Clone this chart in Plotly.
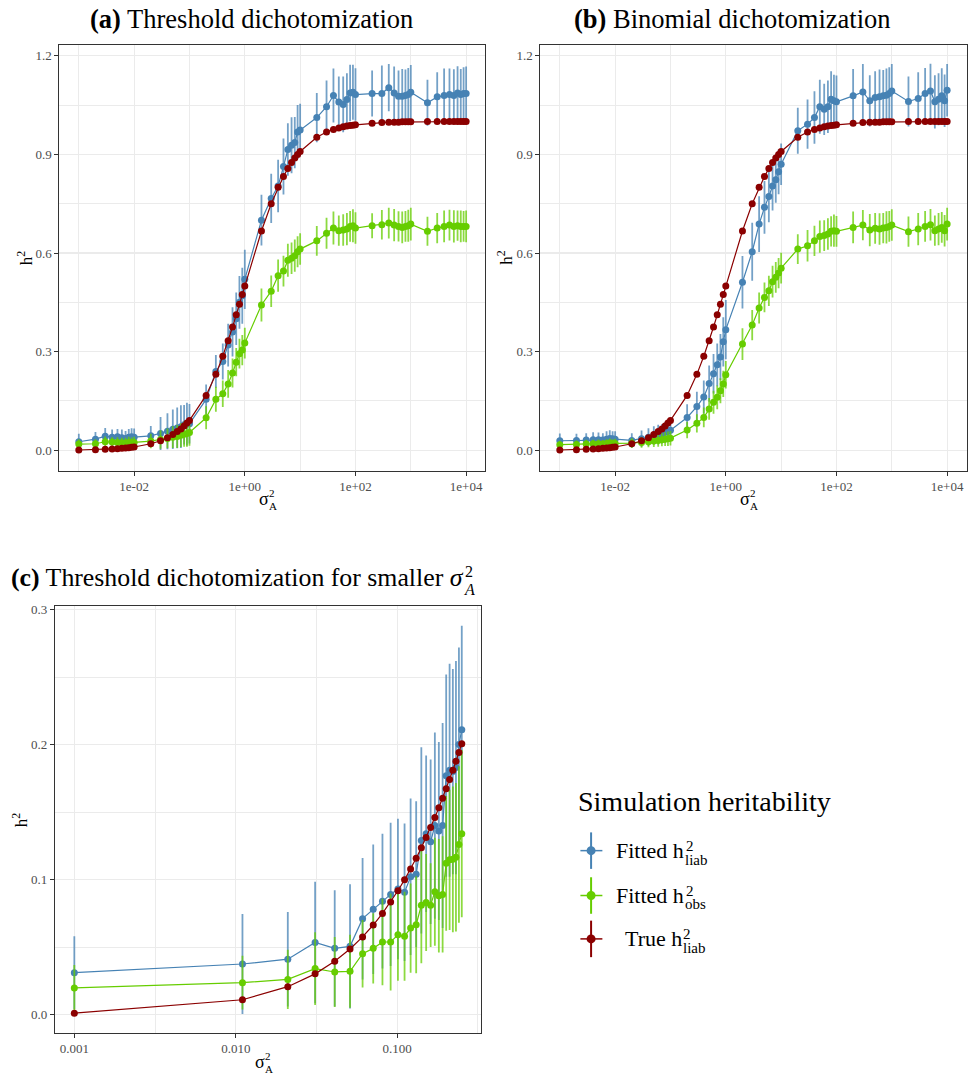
import plotly.graph_objects as go

# ---------------- data ----------------
sigma = [0.001, 0.002, 0.003, 0.004, 0.005, 0.006, 0.007, 0.008, 0.009,
         0.01, 0.02, 0.03, 0.04, 0.05, 0.06, 0.07, 0.08, 0.09,
         0.1, 0.2, 0.3, 0.4, 0.5, 0.6, 0.7, 0.8, 0.9,
         1, 2, 3, 4, 5, 6, 7, 8, 9,
         10, 20, 30, 40, 50, 60, 70, 80, 90,
         100, 200, 300, 400, 500, 600, 700, 800, 900,
         1000, 2000, 3000, 4000, 5000, 6000, 7000, 8000, 9000,
         10000]

true_h = [0.001, 0.002, 0.003, 0.004, 0.005, 0.006, 0.007, 0.008, 0.009,
          0.010, 0.020, 0.029, 0.038, 0.048, 0.057, 0.065, 0.074, 0.083,
          0.091, 0.167, 0.231, 0.286, 0.333, 0.375, 0.412, 0.444, 0.474,
          0.500, 0.667, 0.750, 0.800, 0.833, 0.857, 0.875, 0.889, 0.900,
          0.909, 0.952, 0.968, 0.976, 0.980, 0.984, 0.986, 0.988, 0.989,
          0.990, 0.995, 0.997, 0.998, 0.998, 0.998, 0.999, 0.999, 0.999,
          0.999, 1.000, 1.000, 1.000, 1.000, 1.000, 1.000, 1.000, 1.000,
          1.000]

# (a) threshold dichotomization
a_liab = [0.026, 0.034, 0.043, 0.040, 0.041, 0.038, 0.036, 0.040, 0.041,
          0.040, 0.044, 0.051, 0.058, 0.064, 0.068, 0.072, 0.078, 0.080,
          0.081, 0.155, 0.240, 0.270, 0.320, 0.360, 0.400, 0.450, 0.470,
          0.520, 0.700, 0.766, 0.804, 0.863, 0.915, 0.928, 0.936, 0.968,
          0.974, 1.012, 1.045, 1.079, 1.059, 1.052, 1.067, 1.087, 1.089,
          1.082, 1.085, 1.085, 1.103, 1.087, 1.077, 1.077, 1.079, 1.082,
          1.089, 1.057, 1.075, 1.079, 1.082, 1.079, 1.087, 1.082, 1.085,
          1.085]
a_liab_se = [0.024, 0.022, 0.025, 0.023, 0.024, 0.025, 0.023, 0.025, 0.026,
             0.026, 0.030, 0.050, 0.055, 0.060, 0.062, 0.065, 0.060, 0.065,
             0.060, 0.045, 0.050, 0.055, 0.065, 0.075, 0.080, 0.080, 0.085,
             0.090, 0.077, 0.075, 0.080, 0.085, 0.080, 0.085, 0.078, 0.082,
             0.080, 0.075, 0.080, 0.082, 0.078, 0.085, 0.080, 0.086, 0.084,
             0.080, 0.070, 0.085, 0.072, 0.080, 0.078, 0.083, 0.079, 0.081,
             0.083, 0.070, 0.075, 0.082, 0.079, 0.080, 0.081, 0.078, 0.080,
             0.082]
a_obs = [0.019, 0.020, 0.026, 0.025, 0.024, 0.023, 0.022, 0.024, 0.023,
         0.024, 0.028, 0.033, 0.036, 0.040, 0.042, 0.046, 0.049, 0.051,
         0.054, 0.099, 0.155, 0.172, 0.202, 0.235, 0.268, 0.294, 0.305,
         0.326, 0.442, 0.484, 0.531, 0.545, 0.578, 0.584, 0.592, 0.604,
         0.612, 0.637, 0.660, 0.676, 0.668, 0.670, 0.673, 0.681, 0.683,
         0.676, 0.683, 0.686, 0.691, 0.685, 0.681, 0.678, 0.681, 0.683,
         0.688, 0.666, 0.676, 0.681, 0.685, 0.681, 0.683, 0.681, 0.681,
         0.681]
a_obs_se = [0.015, 0.014, 0.016, 0.015, 0.016, 0.015, 0.016, 0.017, 0.016,
            0.017, 0.022, 0.028, 0.030, 0.033, 0.035, 0.036, 0.038, 0.040,
            0.040, 0.035, 0.038, 0.040, 0.042, 0.044, 0.043, 0.045, 0.046,
            0.047, 0.050, 0.048, 0.049, 0.047, 0.050, 0.048, 0.049, 0.047,
            0.048, 0.045, 0.047, 0.050, 0.046, 0.048, 0.049, 0.047, 0.050,
            0.048, 0.038, 0.045, 0.047, 0.049, 0.046, 0.048, 0.047, 0.049,
            0.050, 0.044, 0.046, 0.048, 0.047, 0.049, 0.046, 0.048, 0.047,
            0.048]

# (b) binomial dichotomization
b_liab = [0.029, 0.030, 0.031, 0.032, 0.032, 0.031, 0.034, 0.036, 0.035,
          0.034, 0.030, 0.035, 0.040, 0.045, 0.048, 0.050, 0.054, 0.057,
          0.061, 0.100, 0.133, 0.162, 0.203, 0.233, 0.260, 0.284, 0.330,
          0.367, 0.511, 0.604, 0.688, 0.739, 0.772, 0.804, 0.823, 0.847,
          0.870, 0.972, 0.992, 1.012, 1.045, 1.037, 1.045, 1.068, 1.063,
          1.060, 1.078, 1.090, 1.063, 1.073, 1.075, 1.078, 1.080, 1.085,
          1.093, 1.061, 1.070, 1.085, 1.093, 1.060, 1.068, 1.078, 1.063,
          1.095]
b_liab_se = [0.022, 0.020, 0.021, 0.023, 0.022, 0.021, 0.024, 0.025, 0.023,
             0.024, 0.022, 0.025, 0.027, 0.028, 0.030, 0.029, 0.031, 0.030,
             0.030, 0.040, 0.045, 0.050, 0.055, 0.060, 0.065, 0.070, 0.075,
             0.090, 0.080, 0.088, 0.085, 0.080, 0.078, 0.075, 0.070, 0.068,
             0.063, 0.070, 0.075, 0.080, 0.082, 0.078, 0.080, 0.085, 0.079,
             0.080, 0.082, 0.085, 0.078, 0.080, 0.083, 0.079, 0.081, 0.080,
             0.082, 0.076, 0.080, 0.078, 0.083, 0.081, 0.079, 0.084, 0.080,
             0.080]
b_obs = [0.017, 0.018, 0.019, 0.020, 0.020, 0.019, 0.021, 0.022, 0.021,
         0.021, 0.022, 0.024, 0.026, 0.028, 0.030, 0.032, 0.034, 0.035,
         0.037, 0.062, 0.082, 0.100, 0.126, 0.146, 0.161, 0.181, 0.202,
         0.230, 0.323, 0.381, 0.433, 0.465, 0.485, 0.513, 0.526, 0.539,
         0.554, 0.612, 0.622, 0.637, 0.650, 0.653, 0.658, 0.666, 0.668,
         0.666, 0.678, 0.685, 0.670, 0.675, 0.673, 0.676, 0.678, 0.681,
         0.685, 0.665, 0.673, 0.681, 0.686, 0.668, 0.673, 0.678, 0.668,
         0.688]
b_obs_se = [0.012, 0.012, 0.013, 0.012, 0.013, 0.012, 0.013, 0.014, 0.013,
            0.014, 0.015, 0.016, 0.017, 0.018, 0.019, 0.020, 0.021, 0.022,
            0.022, 0.025, 0.028, 0.030, 0.033, 0.035, 0.036, 0.038, 0.040,
            0.042, 0.048, 0.046, 0.047, 0.045, 0.046, 0.048, 0.047, 0.046,
            0.047, 0.045, 0.048, 0.046, 0.049, 0.047, 0.048, 0.046, 0.049,
            0.047, 0.048, 0.046, 0.049, 0.047, 0.048, 0.046, 0.049, 0.047,
            0.048, 0.046, 0.049, 0.047, 0.048, 0.046, 0.049, 0.047, 0.048,
            0.050]

# (c) threshold dichotomization, smaller sigma
sigma_c = [0.001, 0.011, 0.021, 0.031, 0.041, 0.051, 0.061, 0.071, 0.081,
           0.091, 0.101, 0.111, 0.121, 0.131, 0.141, 0.151, 0.161, 0.171,
           0.181, 0.191, 0.201, 0.211, 0.221, 0.231, 0.241, 0.251]
c_true = [0.001, 0.0109, 0.0206, 0.0301, 0.0394, 0.0485, 0.0575, 0.0663, 0.0749,
          0.0834, 0.0917, 0.0999, 0.1079, 0.1158, 0.1236, 0.1312, 0.1386, 0.1460,
          0.1532, 0.1603, 0.1673, 0.1742, 0.1810, 0.1877, 0.1942, 0.2006]
c_liab = [0.031, 0.0374, 0.041, 0.0534, 0.049, 0.0505, 0.071, 0.078, 0.084,
          0.089, 0.093, 0.0906, 0.102, 0.104, 0.129, 0.134, 0.128, 0.140,
          0.136, 0.140, 0.177, 0.181, 0.180, 0.183, 0.200, 0.211]
c_liab_se = [0.027, 0.037, 0.035, 0.045, 0.043, 0.046, 0.045, 0.048, 0.050,
             0.053, 0.052, 0.051, 0.058, 0.054, 0.069, 0.058, 0.061, 0.069,
             0.066, 0.076, 0.075, 0.079, 0.076, 0.079, 0.072, 0.077]
c_obs = [0.0197, 0.0236, 0.026, 0.034, 0.0315, 0.032, 0.045, 0.049, 0.0537,
         0.0537, 0.059, 0.058, 0.064, 0.0665, 0.081, 0.083, 0.081, 0.091,
         0.088, 0.089, 0.112, 0.1146, 0.115, 0.1165, 0.126, 0.134]
c_obs_se = [0.017, 0.020, 0.022, 0.027, 0.026, 0.027, 0.025, 0.026, 0.032,
            0.036, 0.034, 0.033, 0.033, 0.036, 0.043, 0.036, 0.031, 0.040,
            0.042, 0.043, 0.050, 0.052, 0.054, 0.055, 0.058, 0.062]

ab_xticks = [0.01, 1, 100, 10000]
ab_xticktext = ["1e-02", "1e+00", "1e+02", "1e+04"]
ab_xminor = [0.001, 0.1, 10, 1000]
ab_yticks = [0.0, 0.3, 0.6, 0.9, 1.2]
ab_yticktext = ["0.0", "0.3", "0.6", "0.9", "1.2"]
ab_yminor = [0.15, 0.45, 0.75, 1.05]
c_xticks = [0.001, 0.01, 0.1]
c_xticktext = ["0.001", "0.010", "0.100"]
c_xminor = [0.00316, 0.0316, 0.316]
c_yticks = [0.0, 0.1, 0.2, 0.3]
c_yticktext = ["0.0", "0.1", "0.2", "0.3"]
c_yminor = [0.05, 0.15, 0.25]

legend_labels = [("Fitted h", "liab"), ("Fitted h", "obs"), ("True h", "liab")]

# ---------------- style ----------------
W, H = 968, 1080
FONT = "Liberation Serif"
BLUE, GREEN, RED = "#4682B4", "#66CD00", "#8B0000"
BLUE_A, GREEN_A, RED_A = "rgba(70,130,180,0.75)", "rgba(102,205,0,0.75)", "rgba(139,0,0,0.75)"


def px(x):
    return x / W


def py(y):
    return 1 - y / H


fig = go.Figure()


def add_panel(xs, liab, liab_se, obs, obs_se, true, xa, ya):
    series = [(liab, liab_se, BLUE, BLUE_A), (obs, obs_se, GREEN, GREEN_A), (true, None, RED, RED_A)]
    for ys, se, col, cola in series:
        fig.add_trace(go.Scatter(
            x=xs, y=ys, xaxis=xa, yaxis=ya, mode="lines+markers",
            line=dict(color=col, width=1.2),
            marker=dict(color=col, size=7),
            error_y=dict(type="data", array=se if se is not None else [0] * len(ys),
                         visible=se is not None, color=cola, thickness=1.8, width=0),
            showlegend=False, hoverinfo="skip"))


add_panel(sigma, a_liab, a_liab_se, a_obs, a_obs_se, true_h, "x", "y")
add_panel(sigma, b_liab, b_liab_se, b_obs, b_obs_se, true_h, "x2", "y2")
add_panel(sigma_c, c_liab, c_liab_se, c_obs, c_obs_se, c_true, "x3", "y3")

base = dict(showline=True, mirror=True, linecolor="#333333", linewidth=1,
            ticks="outside", ticklen=4, tickwidth=1, tickcolor="#333333",
            tickfont=dict(family=FONT, size=13, color="#4D4D4D"),
            showgrid=True, gridcolor="#EBEBEB", gridwidth=1.1, zeroline=False,
            fixedrange=True)


def minor(vals):
    return dict(tickvals=vals, showgrid=True, gridcolor="#EBEBEB", gridwidth=1, ticks="")


fig.update_layout(
    xaxis=dict(base, type="log", range=[-3.35, 4.35], domain=[px(59.5), px(486)], anchor="y",
               tickvals=ab_xticks, ticktext=ab_xticktext, minor=minor(ab_xminor)),
    yaxis=dict(base, range=[-0.062, 1.234], domain=[py(469), py(41.7)], anchor="x",
               tickvals=ab_yticks, ticktext=ab_yticktext, minor=minor(ab_yminor)),
    xaxis2=dict(base, type="log", range=[-3.35, 4.35], domain=[px(541), px(967.5)], anchor="y2",
                tickvals=ab_xticks, ticktext=ab_xticktext, minor=minor(ab_xminor)),
    yaxis2=dict(base, range=[-0.062, 1.234], domain=[py(469), py(41.7)], anchor="x2",
                tickvals=ab_yticks, ticktext=ab_yticktext, minor=minor(ab_yminor)),
    xaxis3=dict(base, type="log", range=[-3.12, -0.48], domain=[px(55), px(481.7)], anchor="y3",
                tickvals=c_xticks, ticktext=c_xticktext, minor=minor(c_xminor)),
    yaxis3=dict(base, range=[-0.0136, 0.303], domain=[py(1032.7), py(604.3)], anchor="x3",
                tickvals=c_yticks, ticktext=c_yticktext, minor=minor(c_yminor)),
)

ann = []
shapes = []


def text(x, y, s, size, xanchor="center", angle=0, color="black"):
    ann.append(dict(x=px(x), y=py(y), xref="paper", yref="paper", text=s, showarrow=False,
                    xanchor=xanchor, yanchor="middle", textangle=angle, borderpad=0,
                    font=dict(family=FONT, size=size, color=color)))


# titles
text(252, 16, "<b>(a)</b> Threshold dichotomization", 26.5)
text(733.5, 16, "<b>(b)</b> Binomial dichotomization", 26.5)
text(465, 576, "<b>(c)</b> Threshold dichotomization for smaller <i>σ</i>", 25.8, xanchor="right")
text(464.5, 570, "2", 16, xanchor="left")
text(463.5, 588, "<i>A</i>", 16, xanchor="left")

# axis titles
for cx, cy in [(269, 497), (750.5, 497), (265, 1062)]:
    text(cx + 1, cy, "σ", 18, xanchor="right")
    text(cx - 0.5, cy - 6, "2", 11, xanchor="left")
    text(cx - 0.5, cy + 7, "A", 11, xanchor="left")
for cx, cy in [(25, 255), (506, 255), (20, 818.5)]:
    text(cx, cy, "h<sup>2</sup>", 17, angle=-90)

# legend
text(578, 801, "Simulation heritability", 28, xanchor="left")
for (main, sub), cy, col, end in zip(legend_labels, [850, 895, 938.5], [BLUE, GREEN, RED],
                                      [686, 686, 683.3]):
    shapes.append(dict(type="line", xref="paper", yref="paper", x0=px(581), x1=px(603),
                       y0=py(cy), y1=py(cy), line=dict(color=col, width=1.5)))
    shapes.append(dict(type="line", xref="paper", yref="paper", x0=px(591.7), x1=px(591.7),
                       y0=py(cy - 18.3), y1=py(cy + 18.3), line=dict(color=col, width=2)))
    shapes.append(dict(type="circle", xref="paper", yref="paper", x0=px(587.2), x1=px(596.2),
                       y0=py(cy - 4.5), y1=py(cy + 4.5), fillcolor=col, line=dict(color=col, width=0)))
    text(end, cy, main, 22, xanchor="right")
    text(end - 0.5, cy - 5, "2", 15, xanchor="left")
    text(end - 1, cy + 9, sub, 15, xanchor="left")

fig.update_layout(width=W, height=H, margin=dict(l=0, r=0, t=0, b=0),
                  plot_bgcolor="white", paper_bgcolor="white", showlegend=False,
                  hovermode=False, annotations=ann, shapes=shapes)

fig.write_html("out.html", config={"displayModeBar": False, "staticPlot": True},
               post_script="document.body.style.margin='0';")
